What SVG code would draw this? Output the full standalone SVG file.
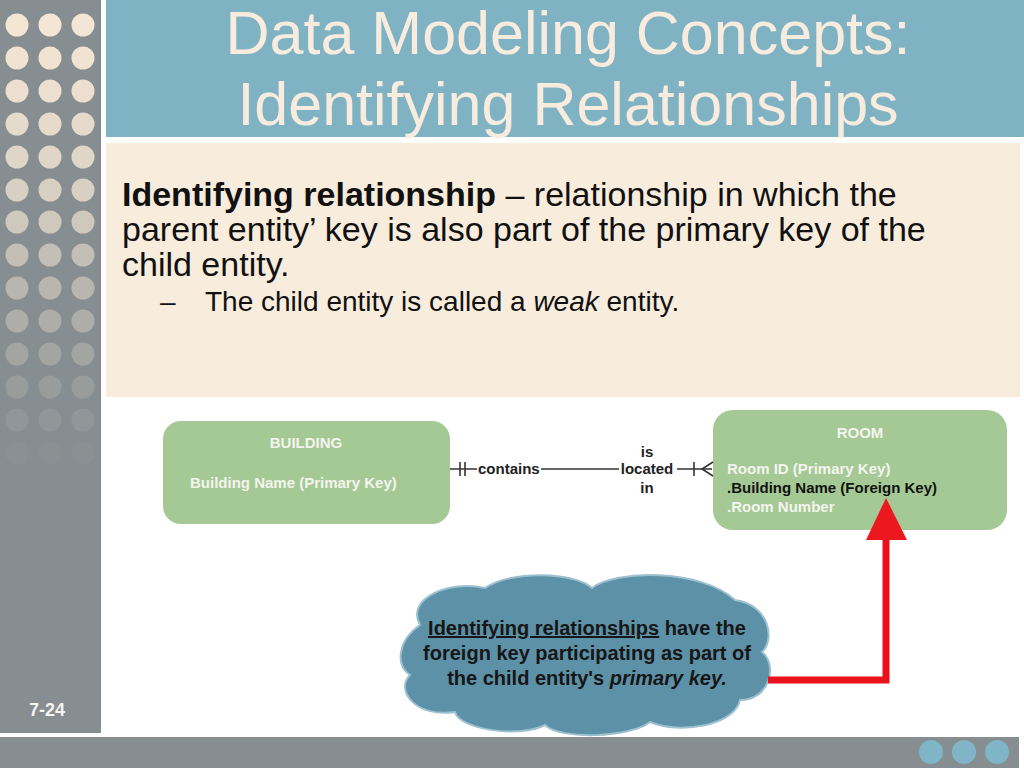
<svg xmlns="http://www.w3.org/2000/svg" width="1024" height="768" viewBox="0 0 1024 768">
<defs>
<style>
.sans{font-family:"Liberation Sans",Arial,sans-serif}
.title{font-size:61px;fill:#f8ecde;text-anchor:middle}
.body{font-size:34px;fill:#111}
.sub{font-size:28px;fill:#111}
.ent{fill:#a4c995}
.et{font-size:15px;font-weight:bold;fill:#f4f4ee}
.rel{font-size:15px;font-weight:bold;fill:#222}
.ln{stroke:#333;stroke-width:1.6;fill:none}
.ct{font-size:20px;font-weight:bold;fill:#161616;text-anchor:middle}
</style>
</defs>
<rect width="1024" height="768" fill="#ffffff"/>
<g id="sidebar">
<rect x="0" y="0" width="101" height="733" fill="#868e91"/>
<g fill="#f4e6d4">
<g opacity="1"><circle cx="17" cy="25" r="11.5"/><circle cx="50" cy="25" r="11.5"/><circle cx="83" cy="25" r="11.5"/></g>
<g opacity="0.97"><circle cx="17" cy="58" r="11.5"/><circle cx="50" cy="58" r="11.5"/><circle cx="83" cy="58" r="11.5"/></g>
<g opacity="0.93"><circle cx="17" cy="91" r="11.5"/><circle cx="50" cy="91" r="11.5"/><circle cx="83" cy="91" r="11.5"/></g>
<g opacity="0.88"><circle cx="17" cy="124" r="11.5"/><circle cx="50" cy="124" r="11.5"/><circle cx="83" cy="124" r="11.5"/></g>
<g opacity="0.82"><circle cx="17" cy="157" r="11.5"/><circle cx="50" cy="157" r="11.5"/><circle cx="83" cy="157" r="11.5"/></g>
<g opacity="0.75"><circle cx="17" cy="190" r="11.5"/><circle cx="50" cy="190" r="11.5"/><circle cx="83" cy="190" r="11.5"/></g>
<g opacity="0.66"><circle cx="17" cy="222" r="11.5"/><circle cx="50" cy="222" r="11.5"/><circle cx="83" cy="222" r="11.5"/></g>
<g opacity="0.56"><circle cx="17" cy="255" r="11.5"/><circle cx="50" cy="255" r="11.5"/><circle cx="83" cy="255" r="11.5"/></g>
<g opacity="0.46"><circle cx="17" cy="288" r="11.5"/><circle cx="50" cy="288" r="11.5"/><circle cx="83" cy="288" r="11.5"/></g>
<g opacity="0.36"><circle cx="17" cy="321" r="11.5"/><circle cx="50" cy="321" r="11.5"/><circle cx="83" cy="321" r="11.5"/></g>
<g opacity="0.26"><circle cx="17" cy="354" r="11.5"/><circle cx="50" cy="354" r="11.5"/><circle cx="83" cy="354" r="11.5"/></g>
<g opacity="0.17"><circle cx="17" cy="387" r="11.5"/><circle cx="50" cy="387" r="11.5"/><circle cx="83" cy="387" r="11.5"/></g>
<g opacity="0.1"><circle cx="17" cy="420" r="11.5"/><circle cx="50" cy="420" r="11.5"/><circle cx="83" cy="420" r="11.5"/></g>
<g opacity="0.04"><circle cx="17" cy="453" r="11.5"/><circle cx="50" cy="453" r="11.5"/><circle cx="83" cy="453" r="11.5"/></g>
</g>
<text x="47" y="716" class="sans" font-size="18" font-weight="bold" fill="#f8f4ee" text-anchor="middle">7-24</text>
</g>
<g id="bottombar">
<rect x="0" y="737" width="1019" height="31" fill="#868e91"/>
<circle cx="931" cy="752" r="12" fill="#7fb5c6"/>
<circle cx="964" cy="752" r="12" fill="#7fb5c6"/>
<circle cx="997" cy="752" r="12" fill="#7fb5c6"/>
</g>
<g id="titlebar">
<rect x="106" y="0" width="918" height="137" fill="#7fb3c4"/>
<text class="sans title" x="568" y="54">Data Modeling Concepts:</text>
<text class="sans title" x="568" y="125">Identifying Relationships</text>
</g>
<g id="content">
<rect x="106" y="143" width="914" height="254" fill="#f8ecdd"/>
<text class="sans body" x="122" y="206"><tspan font-weight="bold">Identifying relationship</tspan> – relationship in which the</text>
<text class="sans body" x="122" y="241">parent entity’ key is also part of the primary key of the</text>
<text class="sans body" x="122" y="276">child entity.</text>
<text class="sans sub" x="160" y="311">–</text>
<text class="sans sub" x="205" y="311">The child entity is called a <tspan font-style="italic">weak</tspan> entity.</text>
</g>
<g id="building">
<rect class="ent" x="163" y="421" width="287" height="103" rx="18"/>
<text class="sans et" x="306" y="448" text-anchor="middle" font-weight="normal">BUILDING</text>
<text class="sans et" x="190" y="488">Building Name (Primary Key)</text>
</g>
<g id="room">
<rect class="ent" x="713" y="410" width="294" height="120" rx="20"/>
<text class="sans et" x="860" y="438" text-anchor="middle" font-weight="normal">ROOM</text>
<text class="sans et" x="727" y="474">Room ID (Primary Key)</text>
<text class="sans et" x="727" y="493" style="fill:#111">.Building Name (Foreign Key)</text>
<text class="sans et" x="727" y="512">.Room Number</text>
</g>
<g id="cloud">
<path d="M420,625 C405,598 450,580 485,588 C510,570 575,572 592,588 C615,570 700,568 735,600 C770,605 775,640 762,652 C778,665 770,700 740,700 C735,725 680,735 650,722 C630,738 560,740 545,725 C520,738 460,730 455,712 C415,718 395,690 410,675 C395,665 398,640 420,625 Z" fill="#5d91a7" stroke="#9cc0cf" stroke-width="2"/>
<text class="sans ct" x="587" y="635"><tspan text-decoration="underline">Identifying relationships</tspan> have the</text>
<text class="sans ct" x="587" y="660">foreign key participating as part of</text>
<text class="sans ct" x="587" y="685">the child entity's <tspan font-style="italic">primary key.</tspan></text>
</g>
<g id="connectors">
<g id="rel-contains">
<path class="ln" d="M450,469 H477 M541,469 H619 M677,469 H712"/>
<path class="ln" d="M460,462 V476 M465,462 V476 M694,462 V476 M713,462 L702,469 L713,476"/>
<text class="sans rel" x="478" y="474">contains</text>
<text class="sans rel" x="647" y="457" text-anchor="middle">is</text>
<text class="sans rel" x="647" y="474" text-anchor="middle">located</text>
<text class="sans rel" x="647" y="493" text-anchor="middle">in</text>
</g>
<g id="red-arrow">
<path d="M768,680 H886 V536" fill="none" stroke="#e8121b" stroke-width="7" stroke-linejoin="miter"/>
<polygon points="866,540 907,540 886,498" fill="#ec1820"/>
</g>
</g>
</svg>
